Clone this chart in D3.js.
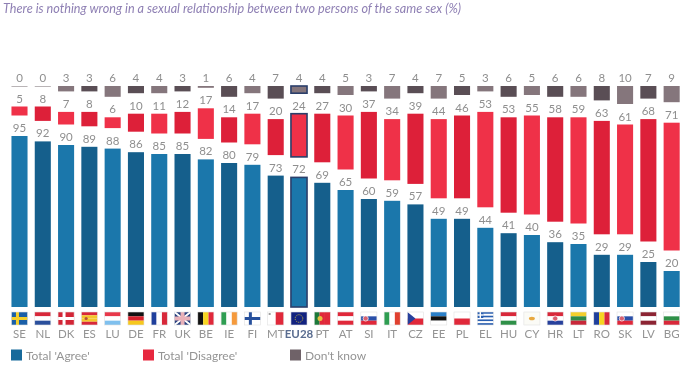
<!DOCTYPE html>
<html>
<head>
<meta charset="utf-8">
<script src="https://cdn.jsdelivr.net/npm/d3@7"></script>
<style>
  html, body { margin: 0; padding: 0; background: #fff; }
  svg { display: block; font-family: Lato, "Noto Sans", sans-serif; filter: blur(0.6px); }
</style>
</head>
<body>
<script>
var countries = ["SE","NL","DK","ES","LU","DE","FR","UK","BE","IE","FI","MT","EU28","PT","AT","SI","IT","CZ","EE","PL","EL","HU","CY","HR","LT","RO","SK","LV","BG"];
var agree    = [95,92,90,89,88,86,85,85,82,80,79,73,72,69,65,60,59,57,49,49,44,41,40,36,35,29,29,25,20];
var disagree = [5,8,7,8,6,10,11,12,17,14,17,20,24,27,30,37,34,39,44,46,53,53,55,58,59,63,61,68,71];
var dontKnow = [0,0,3,3,6,4,4,3,1,6,4,7,4,4,5,3,7,4,7,5,3,6,5,6,6,8,10,7,9];

var legendLabels = ["Total 'Agree'", "Total 'Disagree'", "Don't know"];
var titleText = "There is nothing wrong in a sexual relationship between two persons of the same sex (%)";

// stripe colours per flag, "v" = vertical stripes, otherwise horizontal
var flagStripes = {
  SE:["#1a5fa8"], NL:["#d8283a","#fff","#2a4f9c"], DK:["#d32536"], ES:["#d8283a","#f4c62c","#f4c62c","#d8283a"],
  LU:["#e8384a","#fff","#7fc0ee"], DE:["#111","#d8202c","#f6c81e"], FR:["#1f3f9c","#fff","#d8283a"], UK:["#27407f"],
  BE:["#111","#f6d520","#e0283a"], IE:["#2f9e52","#fff","#f59a3c"], FI:["#fff"], MT:["#fff","#e0283a"],
  EU28:["#12227f"], PT:["#1c7a3a","#e0283a","#e0283a"], AT:["#e0283a","#fff","#e0283a"], SI:["#fff","#2a4fa8","#e0283a"],
  IT:["#2f9e52","#fff","#e0402f"], CZ:["#fff","#e0283a"], EE:["#2a7fc8","#111","#fff"], PL:["#fff","#e0283a"],
  EL:["#2a5fb0","#fff","#2a5fb0","#fff","#2a5fb0","#fff","#2a5fb0"], HU:["#d8283a","#fff","#2f9048"], CY:["#fbfbf6"],
  HR:["#d8283a","#fff","#27409c"], LT:["#f4cf2c","#2f8a48","#c8283a"], RO:["#1f3f9c","#f6d520","#d8283a"],
  SK:["#fff","#2a4fa8","#e0283a"], LV:["#8c2433","#fff","#8c2433"], BG:["#fff","#2f9048","#d8283a"]
};
var verticalFlags = ["FR","BE","IE","MT","PT","IT","RO"];
var crossFlags = {SE:"#f4cf2c", DK:"#fff", FI:"#27509c"};

var width = 687, height = 368;
var svg = d3.select("body").append("svg").attr("width", width).attr("height", height);

var x = d3.scaleBand().domain(countries).range([7.85, 683.3]).paddingInner(0.31).paddingOuter(0.155);
var h = d3.scaleLinear().domain([0, 100]).range([0, 180]);
var baseY = 307, gap = 20.5;

var shades = {
  agree: ["#1b77ab", "#155f8c"],
  disagree: ["#ef3148", "#dd2039"],
  dk: ["#85767c", "#5a4e55"]
};
var navy = "#2b3f6b";

var rows = countries.map(function(c, i) {
  var agreeTop = baseY - h(agree[i]);
  var disBottom = agreeTop - gap;
  var disTop = disBottom - h(disagree[i]);
  var dkBottom = disTop - gap;
  var dkTop = dkBottom - h(dontKnow[i]);
  return {c: c, i: i,
    segs: [
      {key: "agree", y: agreeTop, v: agree[i]},
      {key: "disagree", y: disTop, v: disagree[i]},
      {key: "dk", y: dkTop, v: dontKnow[i]}
    ]};
});

var col = svg.selectAll("g.col").data(rows).enter().append("g").attr("class", "col");

col.selectAll("rect.bar")
  .data(function(d) { return d.segs.map(function(s) { return Object.assign({c: d.c, i: d.i}, s); }); })
  .enter().append("rect")
  .attr("class", "bar")
  .attr("x", function(d) { return x(d.c); })
  .attr("y", function(d) { return d.y; })
  .attr("width", x.bandwidth())
  .attr("height", function(d) { return Math.max(h(d.v), 1); })
  .attr("fill", function(d) { return d.v == 0 ? "#b9b4b6" : shades[d.key][d.i % 2]; })
  .attr("stroke", function(d) { return d.c == "EU28" ? navy : "none"; })
  .attr("stroke-width", 1.6);

col.selectAll("text.val")
  .data(function(d) { return d.segs.map(function(s) { return Object.assign({c: d.c}, s); }); })
  .enter().append("text")
  .attr("class", "val")
  .attr("x", function(d) { return x(d.c) + x.bandwidth() / 2; })
  .attr("y", function(d) { return d.y - 4; })
  .attr("text-anchor", "middle")
  .attr("font-size", 11.5)
  .attr("fill", "#8f8f8f")
  .text(function(d) { return d.v; });

// flags
var flagY = 312, flagH = 13;
var flag = col.append("g").attr("transform", function(d) { return "translate(" + x(d.c) + "," + flagY + ")"; });
flag.each(function(d) {
  var g = d3.select(this), w = x.bandwidth(), st = flagStripes[d.c];
  var vert = verticalFlags.indexOf(d.c) >= 0;
  var b = d3.scaleBand().domain(d3.range(st.length)).range([0, vert ? w : flagH]);
  g.selectAll("rect").data(st).enter().append("rect")
    .attr("x", function(s, k) { return vert ? b(k) : 0; })
    .attr("y", function(s, k) { return vert ? 0 : b(k); })
    .attr("width", vert ? b.bandwidth() : w)
    .attr("height", vert ? flagH : b.bandwidth())
    .attr("fill", function(s) { return s; });
  if (crossFlags[d.c]) {
    g.append("rect").attr("x", 4.5).attr("width", 3).attr("height", flagH).attr("fill", crossFlags[d.c]);
    g.append("rect").attr("y", 5).attr("width", w).attr("height", 3).attr("fill", crossFlags[d.c]);
  }
  if (d.c == "UK") {
    g.append("path").attr("d", "M0 0L" + w + " " + flagH + "M" + w + " 0L0 " + flagH).attr("stroke", "#fff").attr("stroke-width", 2);
    g.append("rect").attr("x", w / 2 - 2).attr("width", 4).attr("height", flagH).attr("fill", "#e8b0b8");
    g.append("rect").attr("y", flagH / 2 - 2).attr("width", w).attr("height", 4).attr("fill", "#e8b0b8");
  }
  if (d.c == "EU28") {
    g.append("circle").attr("cx", w / 2).attr("cy", flagH / 2).attr("r", 3.8).attr("fill", "none").attr("stroke", "#c8b840").attr("stroke-dasharray", "1 1");
  }
  if (d.c == "CZ") {
    g.append("path").attr("d", "M0 0L" + (w * 0.5) + " " + (flagH / 2) + "L0 " + flagH + "Z").attr("fill", "#27409c");
  }
  if (d.c == "EL") {
    g.append("rect").attr("width", 6).attr("height", 6).attr("fill", "#2a5fb0");
    g.append("rect").attr("x", 2.3).attr("width", 1.4).attr("height", 6).attr("fill", "#fff");
    g.append("rect").attr("y", 2.3).attr("width", 6).attr("height", 1.4).attr("fill", "#fff");
  }
  if (d.c == "CY") {
    g.append("ellipse").attr("cx", w / 2).attr("cy", flagH / 2).attr("rx", 3).attr("ry", 1.8).attr("fill", "#e8a840");
  }
  if (d.c == "PT") {
    g.append("circle").attr("cx", w * 0.36).attr("cy", flagH / 2).attr("r", 2.5).attr("fill", "#e8c040");
  }
  if (d.c == "MT") {
    g.append("rect").attr("x", 1).attr("y", 1).attr("width", 2).attr("height", 2).attr("fill", "#a0a0a0");
  }
  if (d.c == "SI" || d.c == "SK" || d.c == "HR") {
    g.append("circle").attr("cx", d.c == "HR" ? w / 2 : w * 0.3).attr("cy", flagH / 2).attr("r", 2.6).attr("fill", "#d86070").attr("stroke", "#fff").attr("stroke-width", 0.7);
  }
  if (d.c == "ES") {
    g.append("circle").attr("cx", w * 0.3).attr("cy", flagH / 2).attr("r", 1.6).attr("fill", "#b8503a");
  }
  // faint edge so the white flags still read
  g.append("rect").attr("width", w).attr("height", flagH).attr("fill", "none").attr("stroke", "#e2e2e2").attr("stroke-width", 0.6);
});

// country codes
col.append("text")
  .attr("x", function(d) { return x(d.c) + x.bandwidth() / 2; })
  .attr("y", 338)
  .attr("text-anchor", "middle")
  .attr("font-size", 11.5)
  .attr("font-weight", function(d) { return d.c == "EU28" ? 700 : 400; })
  .attr("fill", function(d) { return d.c == "EU28" ? "#5a6d90" : "#949494"; })
  .text(function(d) { return d.c; });

// legend
var legendX = d3.scaleOrdinal().domain(legendLabels).range([11, 143, 290]);
var legendColors = ["#176a9b", "#e7283f", "#6f6268"];
var leg = svg.selectAll("g.leg").data(legendLabels).enter().append("g").attr("class", "leg");
leg.append("rect")
  .attr("x", function(d) { return legendX(d); })
  .attr("y", 349.5)
  .attr("width", 11)
  .attr("height", 11)
  .attr("fill", function(d, i) { return legendColors[i]; });
leg.append("text")
  .attr("x", function(d) { return legendX(d) + 15; })
  .attr("y", 359.5)
  .attr("font-size", 12)
  .attr("fill", "#949494")
  .text(function(d) { return d; });

// title
svg.append("text")
  .attr("x", 3)
  .attr("y", 13)
  .attr("font-size", 12.65)
  .attr("font-style", "italic")
  .attr("fill", "#8f80b4")
  .text(titleText);
</script>
</body>
</html>
